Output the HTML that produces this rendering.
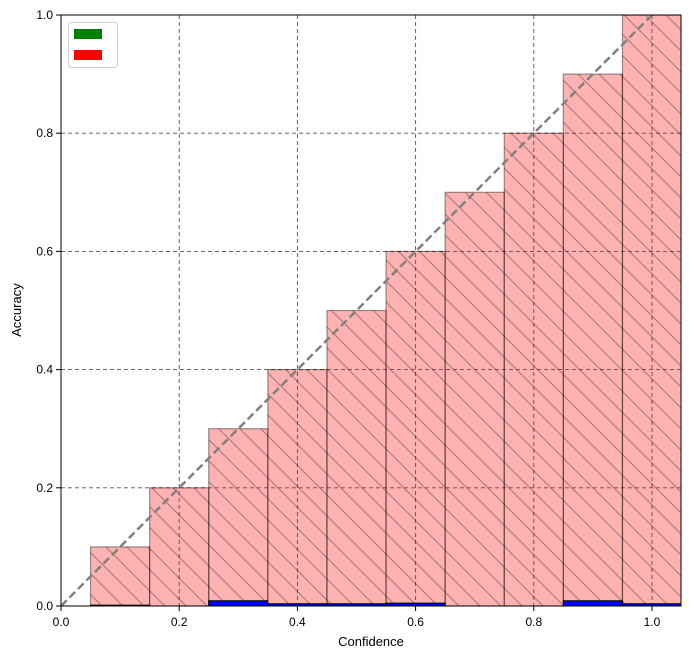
<!DOCTYPE html>
<html><head><meta charset="utf-8"><style>
body{margin:0;background:#fff;}
svg{display:block;font-family:"Liberation Sans","DejaVu Sans",sans-serif;}
</style></head><body>
<svg id="chart" width="691" height="659" viewBox="0 0 691 659" xmlns="http://www.w3.org/2000/svg">
<defs>
<pattern id="hatch" patternUnits="userSpaceOnUse" width="21" height="21">
<path d="M-5,-5 L26,26 M-5,16 L5,26 M16,-5 L26,5" stroke="rgba(0,0,0,0.35)" stroke-width="1" fill="none"/>
</pattern>
<clipPath id="plotclip"><rect x="61" y="15" width="620" height="591"/></clipPath>
</defs>
<g id="grid"></g>
<g id="bars" clip-path="url(#plotclip)"></g>
<line id="diag" stroke="#808080" stroke-width="2.5" stroke-dasharray="8,4" clip-path="url(#plotclip)"/>
<rect x="61" y="15" width="620" height="591" fill="none" stroke="#000" stroke-width="1"/>
<g id="ticks"></g>
<text x="371" y="646" font-size="13" text-anchor="middle">Confidence</text>
<text x="21" y="310" font-size="13" text-anchor="middle" transform="rotate(-90 21 310)">Accuracy</text>
<g>
<rect x="68.5" y="22.5" width="49" height="45" rx="3" fill="#fff" stroke="#d0d0d0"/>
<rect x="74" y="29" width="28" height="10" fill="#008000"/>
<rect x="74" y="50" width="28" height="10" fill="#ff0000"/>
</g>
</svg>
<script>
const binCenters = [0.1,0.2,0.3,0.4,0.5,0.6,0.7,0.8,0.9,1.0];
const accuracyValues = [0.1,0.2,0.3,0.4,0.5,0.6,0.7,0.8,0.9,1.0];
const blueValues = [0.0006,0,0.008,0.003,0.003,0.004,0,0,0.008,0.003];
const xTicks = [0,0.2,0.4,0.6,0.8,1.0];
const yTicks = [0,0.2,0.4,0.6,0.8,1.0];
const xTickLabels = ["0.0","0.2","0.4","0.6","0.8","1.0"];
const yTickLabels = ["0.0","0.2","0.4","0.6","0.8","1.0"];
const binWidth = 0.1;
const NS="http://www.w3.org/2000/svg";
const X=v=>61+v*591, Y=v=>606-v*591;
function mk(t,a,p){const e=document.createElementNS(NS,t);for(const k in a)e.setAttribute(k,a[k]);p.appendChild(e);return e;}
const grid=document.getElementById('grid'),bars=document.getElementById('bars'),ticks=document.getElementById('ticks');
xTicks.forEach((v,i)=>{
 const g=mk('line',{x1:X(v),x2:X(v),y1:15,y2:606,stroke:'#555','stroke-dasharray':'4,3','stroke-width':0.9},grid);
 
 
 mk('line',{x1:X(v),x2:X(v),y1:606,y2:611,stroke:'#000'},ticks);
 const t=mk('text',{x:X(v),y:626,'font-size':12,'text-anchor':'middle'},ticks);t.textContent=xTickLabels[i];
 
 
});
yTicks.forEach((v,i)=>{
 const g=mk('line',{x1:61,x2:681,y1:Y(v),y2:Y(v),stroke:'#555','stroke-dasharray':'4,3','stroke-width':0.9},grid);
 
 
 mk('line',{x1:56,x2:61,y1:Y(v),y2:Y(v),stroke:'#000'},ticks);
 const t=mk('text',{x:53,y:Y(v)+4,'font-size':12,'text-anchor':'end'},ticks);t.textContent=yTickLabels[i];
 
 
});
binCenters.forEach((c,i)=>{
 const x0=X(c-binWidth/2),w=X(binWidth)-X(0),h=Y(0)-Y(accuracyValues[i]);
 const r=mk('rect',{x:x0,y:Y(accuracyValues[i]),width:w,height:h,fill:'rgba(255,0,0,0.3)',stroke:'none'},bars);
 
 
 mk('rect',{x:x0,y:Y(accuracyValues[i]),width:w,height:h,fill:'url(#hatch)',stroke:'rgba(0,0,0,0.4)','stroke-width':1.2},bars);
 const bh=Y(0)-Y(blueValues[i]);
 if(blueValues[i]>0){
  const b=mk('rect',{x:x0,y:Y(blueValues[i])-0.5,width:w,height:bh+0.5,fill:'#0000ff',stroke:'#000','stroke-width':1},bars);
  
  
 }
});
const d=document.getElementById('diag');
d.setAttribute('x1',X(0));d.setAttribute('y1',Y(0));d.setAttribute('x2',X(1.05));d.setAttribute('y2',Y(1.05));
</script>
</body></html>
